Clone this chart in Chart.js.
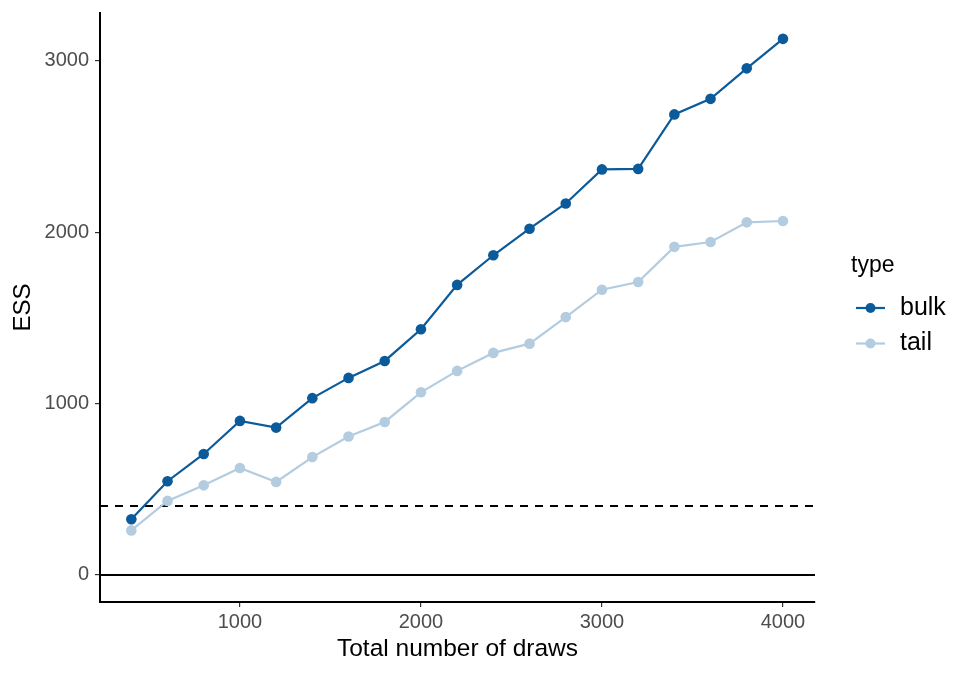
<!DOCTYPE html>
<html>
<head>
<meta charset="utf-8">
<script src="https://cdn.jsdelivr.net/npm/chart.js@4"></script>
<style>
  html, body { margin: 0; padding: 0; background: #fff; }
  #wrap { width: 975px; height: 675px; position: relative; }
</style>
</head>
<body>
<div id="wrap"><canvas id="chart" width="975" height="675"></canvas></div>
<script>
// ESS vs total draws, bulk and tail series, reference lines at 0 and 400.
const draws = [400, 600, 800, 1000, 1200, 1400, 1600, 1800, 2000, 2200,
               2400, 2600, 2800, 3000, 3200, 3400, 3600, 3800, 4000];
const bulkEss = [325, 547, 706, 899, 860, 1032, 1150, 1249, 1434, 1693,
                 1866, 2021, 2168, 2367, 2370, 2688, 2779, 2957, 3129];
const tailEss = [260, 432, 523, 624, 543, 688, 808, 893, 1066, 1191,
                 1296, 1350, 1505, 1665, 1710, 1915, 1943, 2058, 2066];
const xTicks = [1000, 2000, 3000, 4000];
const yTicks = [0, 1000, 2000, 3000];
const refLines = [
    { value: 0, dash: [] },
    { value: 400, dash: [8, 7] },
];
const legendTitle = 'type';

const BULK = '#0b5a9a';
const TAIL = '#b3cce0';
const FONT = '"Liberation Sans", Arial, sans-serif';

const toPoints = (ys) => draws.map((x, i) => ({ x, y: ys[i] }));

const refLinePlugin = {
    id: 'refLines',
    beforeDatasetsDraw(chart) {
        const { ctx, chartArea, scales } = chart;
        ctx.save();
        ctx.strokeStyle = '#000';
        ctx.lineWidth = 2;
        refLines.forEach((r) => {
            const y = Math.round(scales.y.getPixelForValue(r.value));
            ctx.setLineDash(r.dash);
            ctx.beginPath();
            ctx.moveTo(chartArea.left, y);
            ctx.lineTo(chartArea.right, y);
            ctx.stroke();
        });
        ctx.restore();
    },
};

// ggplot-style legend: title, then line+point key per series
const legendPlugin = {
    id: 'ggLegend',
    afterDraw(chart) {
        const { ctx } = chart;
        ctx.save();
        ctx.fillStyle = '#000';
        ctx.textBaseline = 'middle';
        ctx.font = `23px ${FONT}`;
        ctx.fillText(legendTitle, 851, 266);
        chart.data.datasets.forEach((ds, i) => {
            const y = 308 + i * 35.5;
            ctx.strokeStyle = ds.borderColor;
            ctx.lineWidth = 2.2;
            ctx.beginPath();
            ctx.moveTo(856, y);
            ctx.lineTo(885, y);
            ctx.stroke();
            ctx.fillStyle = ds.borderColor;
            ctx.beginPath();
            ctx.arc(870.5, y, 5, 0, Math.PI * 2);
            ctx.fill();
            ctx.fillStyle = '#000';
            ctx.font = `25px ${FONT}`;
            ctx.fillText(ds.label, 900, y);
        });
        ctx.restore();
    },
};

const tickFont = { family: FONT, size: 20 };
const plainLabel = (v) => String(v);

new Chart(document.getElementById('chart').getContext('2d'), {
    type: 'line',
    data: {
        datasets: [
            { label: 'bulk', data: toPoints(bulkEss), borderColor: BULK, backgroundColor: BULK },
            { label: 'tail', data: toPoints(tailEss), borderColor: TAIL, backgroundColor: TAIL },
        ],
    },
    options: {
        responsive: false,
        animation: false,
        layout: { padding: { top: 13, right: 160, left: 0, bottom: 0 } },
        elements: {
            line: { borderWidth: 2.2, tension: 0 },
            point: { radius: 5.3, borderWidth: 0, hoverRadius: 5.3 },
        },
        plugins: { legend: { display: false }, tooltip: { enabled: false } },
        scales: {
            x: {
                type: 'linear',
                min: 227,
                max: 4177,
                afterBuildTicks: (s) => { s.ticks = xTicks.map((v) => ({ value: v })); },
                afterFit: (s) => { s.height = 73; s.paddingLeft = 0; s.paddingRight = 0; },
                grid: { display: true, drawOnChartArea: false, drawTicks: true, tickLength: 5, color: '#333', lineWidth: 1.2 },
                border: { display: true, color: '#000', width: 2 },
                ticks: { color: '#4d4d4d', font: tickFont, padding: 3, maxRotation: 0, callback: plainLabel },
                title: { display: true, text: 'Total number of draws', color: '#000', font: { family: FONT, size: 24.5 }, padding: { top: 0, bottom: 11 } },
            },
            y: {
                min: -158,
                max: 3280,
                afterBuildTicks: (s) => { s.ticks = yTicks.map((v) => ({ value: v })); },
                afterFit: (s) => { s.width = 100; s.paddingTop = 0; s.paddingBottom = 0; },
                grid: { display: true, drawOnChartArea: false, drawTicks: true, tickLength: 5, color: '#333', lineWidth: 1.2 },
                border: { display: true, color: '#000', width: 2 },
                ticks: { color: '#4d4d4d', font: tickFont, padding: 6, callback: plainLabel },
                title: { display: true, text: 'ESS', color: '#000', font: { family: FONT, size: 24 }, padding: { bottom: 0, top: 9 } },
            },
        },
    },
    plugins: [refLinePlugin, legendPlugin],
});
</script>
</body>
</html>
